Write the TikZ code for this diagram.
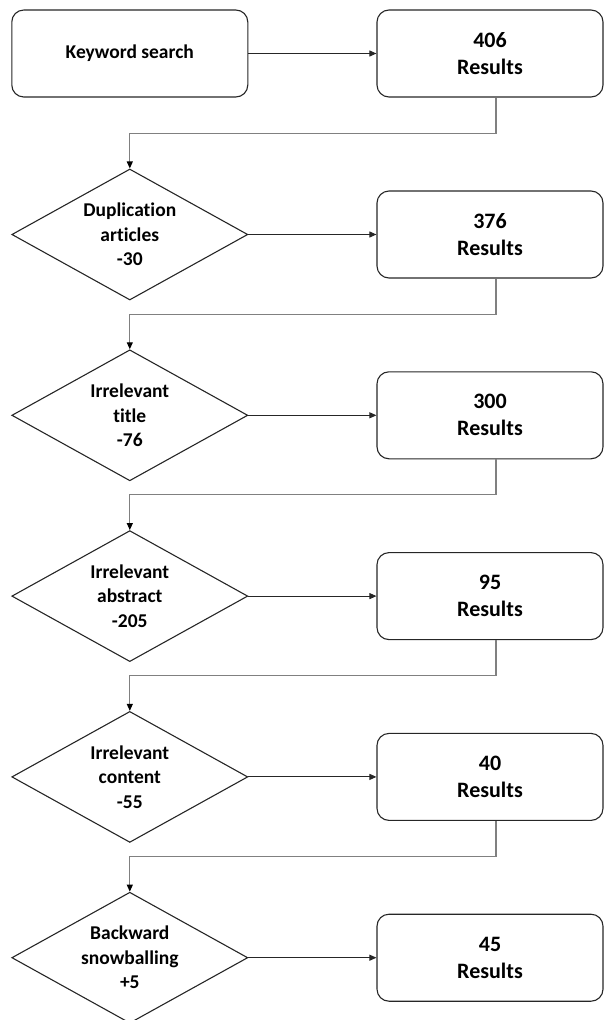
\documentclass[tikz,border=0pt]{standalone}
\usepackage{fontspec}
\setmainfont{Carlito}[Ligatures={NoCommon}]
\usetikzlibrary{shapes.geometric,arrows.meta}
\begin{document}
\begin{tikzpicture}[x=1pt,y=-1pt,
  rbox/.style={draw=black!85,line width=1.1pt,rounded corners=12pt,minimum width=226pt,minimum height=87pt,inner sep=0pt,align=center,font=\fontsize{22}{27}\selectfont\bfseries},
  kbox/.style={draw=black!85,line width=1.1pt,rounded corners=12pt,minimum width=236pt,minimum height=87pt,inner sep=0pt,align=center,font=\fontsize{19.5}{24}\selectfont\bfseries},
  dia/.style={draw=black!85,line width=1.1pt,shape=diamond,minimum width=236pt,minimum height=131pt,inner sep=0pt,aspect=1.8},
  dlab/.style={align=center,inner sep=0pt,font=\fontsize{19.5}{24.5}\selectfont\bfseries},
  harrow/.style={draw=black!85,line width=0.9pt,-{Triangle[length=7pt,width=6pt]}},
  elbow/.style={draw=black!50,line width=1.1pt,-{Triangle[length=7pt,width=6pt,color=black]}}
]
\useasboundingbox (0,0) rectangle (604,1020);
\node[kbox] (kw) at (129.8,53.5) {Keyword search};
\node[rbox] (r0) at (490,53.5) {406\\Results};
\node[dia,label={[dlab]center:{Duplication\\articles\\-30}}] (d1) at (129.8,234.5) {};
\node[rbox] (r1) at (490,234.5) {376\\Results};
\node[dia,label={[dlab]center:{Irrelevant\\title\\-76}}] (d2) at (129.8,415.3) {};
\node[rbox] (r2) at (490,415.3) {300\\Results};
\node[dia,label={[dlab]center:{Irrelevant\\abstract\\-205}}] (d3) at (129.8,596.1) {};
\node[rbox] (r3) at (490,596.1) {95\\Results};
\node[dia,label={[dlab]center:{Irrelevant\\content\\-55}}] (d4) at (129.8,776.9) {};
\node[rbox] (r4) at (490,776.9) {40\\Results};
\node[dia,label={[dlab]center:{Backward\\snowballing\\+5}}] (d5) at (129.8,957.7) {};
\node[rbox] (r5) at (490,957.7) {45\\Results};
\draw[harrow] (kw.east) -- (r0.west);
\draw[harrow] (d1.east) -- (r1.west);
\draw[harrow] (d2.east) -- (r2.west);
\draw[harrow] (d3.east) -- (r3.west);
\draw[harrow] (d4.east) -- (r4.west);
\draw[harrow] (d5.east) -- (r5.west);
\draw[elbow] ([xshift=6pt]r0.south) -- ++(0,35.5) -| (d1.north);
\draw[elbow] ([xshift=6pt]r1.south) -- ++(0,35.5) -| (d2.north);
\draw[elbow] ([xshift=6pt]r2.south) -- ++(0,35.5) -| (d3.north);
\draw[elbow] ([xshift=6pt]r3.south) -- ++(0,35.5) -| (d4.north);
\draw[elbow] ([xshift=6pt]r4.south) -- ++(0,35.5) -| (d5.north);
\end{tikzpicture}
\end{document}
